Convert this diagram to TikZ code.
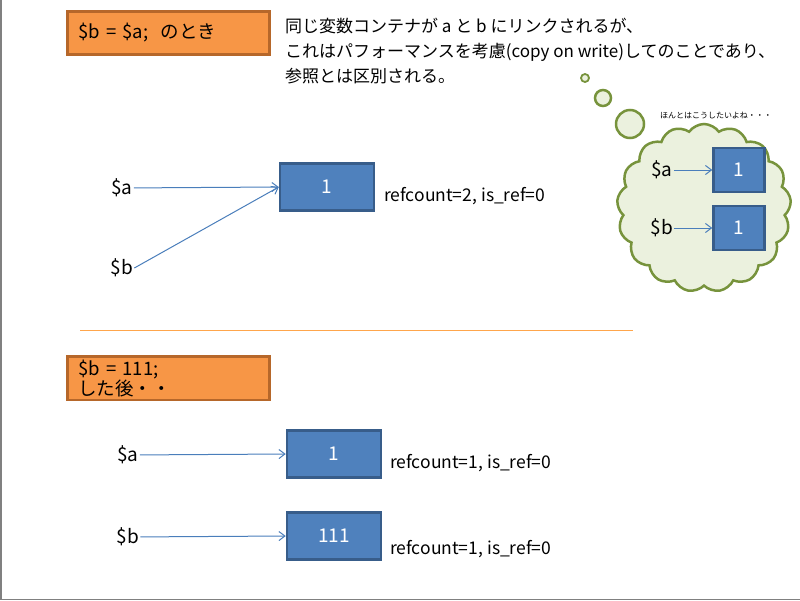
\documentclass[tikz,border=0pt]{standalone}
\usepackage{fontspec}
\setmainfont{Noto Sans CJK JP}
\usetikzlibrary{shapes.symbols,arrows.meta}
\definecolor{bfill}{RGB}{79,129,189}
\definecolor{bdraw}{RGB}{56,93,138}
\definecolor{ofill}{RGB}{247,150,70}
\definecolor{odraw}{RGB}{182,103,42}
\definecolor{cfill}{RGB}{235,241,222}
\definecolor{cdraw}{RGB}{119,147,60}
\definecolor{arr}{RGB}{74,126,187}
\begin{document}
\begin{tikzpicture}[x=1pt,y=-1pt,
  box/.style={draw=bdraw,line width=2.5pt,fill=bfill,text=white,minimum width=94pt,minimum height=47pt,font=\fontsize{19}{21}\selectfont,inner sep=0pt},
  sbox/.style={box,minimum width=51pt,minimum height=44pt},
  obox/.style={draw=odraw,line width=2.5pt,fill=ofill,minimum width=202pt,minimum height=43pt,font=\fontsize{18.5}{20}\selectfont,anchor=north west,text width=180pt,align=left},
  var/.style={font=\fontsize{19}{21}\selectfont,inner sep=1pt},
  lbl/.style={font=\fontsize{17.5}{20}\selectfont,anchor=west,inner sep=0pt},
  ar/.style={-{Straight Barb[length=6pt,width=9pt]},draw=arr,line width=1pt},
  bub/.style={draw=cdraw,line width=2.5pt,fill=cfill}]
\useasboundingbox (0,0) rectangle (800,600);
\draw[gray,line width=1.5pt] (0.75,0) -- (0.75,599.25) -- (800,599.25);
\node[obox] (o1) at (66,10) {\$b = \$a;\ \ のとき};
\node[obox] (o2) at (66,355) {\$b = 111;\ \ した後・・};
\node[anchor=north west,font=\fontsize{17}{25}\selectfont,align=left,inner sep=0pt] (t) at (285,18)
 {同じ変数コンテナが a と b にリンクされるが、\\これはパフォーマンスを考慮(copy on write)してのことであり、\\参照とは区別される。};
\draw[orange!70,line width=0.8pt] (80,330) -- (633,330);
% cloud
\draw[bub,line width=1.8pt] (585,78) circle (4);
\draw[bub] (603,98) circle (8);
\draw[bub] (630,124) circle (14);
\node[cloud,cloud puffs=17,cloud puff arc=110,aspect=1.05,bub,minimum width=174pt,minimum height=168pt,inner sep=0pt] (cl) at (704,208) {};
\node[font=\fontsize{8}{10}\selectfont] (th) at (716,116) {ほんとはこうしたいよね・・・};
\node[sbox] (c1) at (739,170) {1};
\node[sbox] (c2) at (739,228) {1};
\node[var] (ca) at (662,170) {\$a};
\node[var] (cb) at (662,228) {\$b};
\draw[ar] (ca) -- (c1);
\draw[ar] (cb) -- (c2);
% top
\node[box] (b1) at (327,187) {1};
\node[var] (a1) at (122,188) {\$a};
\node[var] (bb1) at (122,268) {\$b};
\draw[ar] (a1) -- (b1.west);
\draw[ar] (bb1.east) -- (b1.west);
\node[lbl] (l1) at (384,196) {refcount=2, is\_ref=0};
% bottom
\node[box] (b2) at (334,454) {1};
\node[box] (b3) at (334,536) {111};
\node[var] (a2) at (128,455) {\$a};
\node[var] (bb2) at (128,537) {\$b};
\draw[ar] (a2) -- (b2.west);
\draw[ar] (bb2) -- (b3.west);
\node[lbl] (l2) at (390,463) {refcount=1, is\_ref=0};
\node[lbl] (l3) at (390,549) {refcount=1, is\_ref=0};
\end{tikzpicture}
\end{document}
